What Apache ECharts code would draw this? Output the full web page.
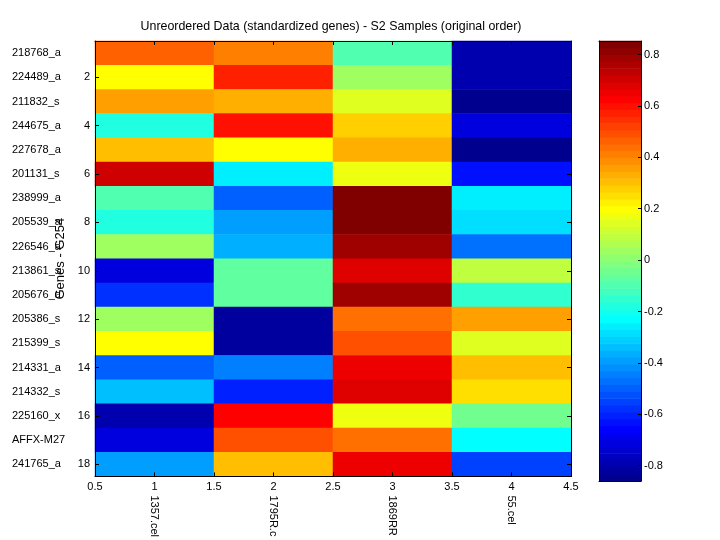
<!DOCTYPE html>
<html><head><meta charset="utf-8">
<script src="https://cdn.jsdelivr.net/npm/echarts@6/dist/echarts.min.js"></script>
<style>html,body{margin:0;padding:0;background:#fff}#c{width:720px;height:540px}</style>
</head><body><div id="c"></div>
<script>
const samples = ['1357.cel', '1795R.c', '1869RR', '55.cel'];
const genes = ['218768_a', '224489_a', '211832_s', '244675_a', '227678_a', '201131_s', '238999_a', '205539_a', '226546_a', '213861_s', '205676_a', '205386_s', '215399_s', '214331_a', '214332_s', '225160_x', 'AFFX-M27', '241765_a'];
const col1 = [0.463, 0.195, 0.356, -0.179, 0.31, 0.704, -0.099, -0.179, 0.035, -0.715, -0.581, 0.035, 0.195, -0.501, -0.340, -0.795, -0.715, -0.394];
const col2 = [0.410, 0.570, 0.329, 0.597, 0.195, -0.260, -0.501, -0.394, -0.367, -0.072, -0.072, -0.822, -0.822, -0.447, -0.608, 0.624, 0.490, 0.302];
const col3 = [-0.099, 0.035, 0.142, 0.289, 0.329, 0.169, 0.85, 0.838, 0.784, 0.677, 0.784, 0.436, 0.490, 0.650, 0.677, 0.169, 0.436, 0.650];
const col4 = [-0.795, -0.795, -0.85, -0.715, -0.86, -0.634, -0.260, -0.286, -0.474, 0.088, -0.153, 0.356, 0.142, 0.302, 0.249, -0.045, -0.233, -0.554];
const xTicks = [0.5, 1, 1.5, 2, 2.5, 3, 3.5, 4, 4.5];
const yTicks = [2, 4, 6, 8, 10, 12, 14, 16, 18];
const cbTicks = [-0.8, -0.6, -0.4, -0.2, 0, 0.2, 0.4, 0.6, 0.8];
const cMin = -0.86, cMax = 0.853;
const title = 'Unreordered Data (standardized genes) - S2 Samples (original order)';
const yName = 'Genes - G254';

// MATLAB jet(64) colormap
function jet64(i) {
  const u = [];
  for (let k = 1; k <= 16; k++) u.push(k / 16);
  for (let k = 0; k < 15; k++) u.push(1);
  for (let k = 16; k >= 1; k--) u.push(k / 16);
  const pick = j => (j >= 1 && j <= 47) ? u[j - 1] : 0;
  const r = pick(i - 24), g = pick(i - 8), b = pick(i + 8);
  const h = x => Math.round(x * 255);
  return 'rgb(' + h(r) + ',' + h(g) + ',' + h(b) + ')';
}
const NL = 64;
const step = (cMax - cMin) / NL;
const colors = [];
for (let i = 1; i <= NL; i++) colors.push(jet64(i));
const pieces = colors.map((c, k) => {
  const p = { gte: cMin + k * step, color: c };
  if (k < NL - 1) p.lt = cMin + (k + 1) * step; else p.lte = cMax + 1e-9;
  return p;
});
const cbData = colors.map((c, k) => [k, cMin + k * step, cMin + (k + 1) * step]);

const cols = [col1, col2, col3, col4];
const heat = [];
cols.forEach((col, ci) => col.forEach((v, ri) => heat.push([ci, ri, v])));

const F = 'Liberation Sans';
const line = { show: true, onZero: false, lineStyle: { color: '#000', width: 1 } };
const lab = { color: '#000', fontSize: 11, fontFamily: F };

const chart = echarts.init(document.getElementById('c'), null, { renderer: 'canvas' });
chart.setOption({
  animation: false,
  backgroundColor: '#fff',
  textStyle: { fontFamily: F },
  title: { text: title, left: 331, top: 21, padding: 0, textAlign: 'center',
    textStyle: { fontSize: 12.4, fontWeight: 'normal', color: '#000', fontFamily: F } },
  grid: [
    { left: 95, top: 41, width: 476, height: 440 },
    { left: 599, top: 41, width: 42, height: 440 }
  ],
  xAxis: [
    { type: 'category', gridIndex: 0, data: samples, position: 'bottom',
      axisLine: { show: false }, axisTick: { show: false }, splitLine: { show: false },
      axisLabel: Object.assign({ rotate: -90, margin: 19, interval: 0 }, lab) },
    { type: 'value', gridIndex: 0, position: 'bottom', min: 0.5, max: 4.5, interval: 0.5, z: 10,
      axisLine: line, axisTick: { show: true, inside: true, length: 4, lineStyle: { color: '#000' } },
      splitLine: { show: false }, axisLabel: Object.assign({ margin: 5, showMinLabel: true, showMaxLabel: true }, lab) },
    { type: 'value', gridIndex: 0, position: 'top', min: 0.5, max: 4.5, interval: 0.5, z: 10,
      axisLine: line, axisTick: { show: true, inside: true, length: 4, lineStyle: { color: '#000' } },
      splitLine: { show: false }, axisLabel: { show: false } },
    { type: 'value', gridIndex: 1, position: 'bottom', min: 0, max: 1, z: 10,
      axisLine: line, axisTick: { show: false }, splitLine: { show: false }, axisLabel: { show: false } },
    { type: 'value', gridIndex: 1, position: 'top', min: 0, max: 1, z: 10,
      axisLine: line, axisTick: { show: false }, splitLine: { show: false }, axisLabel: { show: false } }
  ],
  yAxis: [
    { type: 'category', gridIndex: 0, data: genes, inverse: true, position: 'left',
      axisLine: { show: false }, axisTick: { show: false }, splitLine: { show: false },
      axisLabel: Object.assign({ align: 'left', margin: 83, interval: 0 }, lab) },
    { type: 'value', gridIndex: 0, position: 'left', min: 0.5, max: 18.5, inverse: true, z: 10,
      name: yName, nameLocation: 'middle', nameRotate: 90, nameGap: 24,
      nameTextStyle: { color: '#000', fontSize: 13, fontFamily: F },
      axisLine: line, axisTick: { show: true, inside: true, length: 4, customValues: yTicks, lineStyle: { color: '#000' } },
      splitLine: { show: false }, axisLabel: Object.assign({ margin: 5, customValues: yTicks, formatter: v => String(v) }, lab) },
    { type: 'value', gridIndex: 0, position: 'right', min: 0.5, max: 18.5, inverse: true, z: 10,
      axisLine: line, axisTick: { show: true, inside: true, length: 4, customValues: yTicks, lineStyle: { color: '#000' } },
      splitLine: { show: false }, axisLabel: { show: false } },
    { type: 'value', gridIndex: 1, position: 'right', min: cMin, max: cMax, z: 10,
      axisLine: line, axisTick: { show: true, inside: true, length: 3, customValues: cbTicks, lineStyle: { color: '#000' } },
      splitLine: { show: false }, axisLabel: Object.assign({ margin: 3, customValues: cbTicks, formatter: v => String(Math.round(v * 10) / 10) }, lab) },
    { type: 'value', gridIndex: 1, position: 'left', min: cMin, max: cMax, z: 10,
      axisLine: line, axisTick: { show: false }, splitLine: { show: false }, axisLabel: { show: false } }
  ],
  visualMap: {
    type: 'piecewise', show: false, seriesIndex: 0, dimension: 2, pieces: pieces
  },
  series: [
    { type: 'heatmap', xAxisIndex: 0, yAxisIndex: 0, data: heat, emphasis: { disabled: true }, itemStyle: { borderWidth: 0 } },
    { type: 'custom', xAxisIndex: 3, yAxisIndex: 3, data: cbData, silent: true,
      renderItem: function (params, api) {
        const k = api.value(0);
        const p1 = api.coord([0, api.value(2)]);
        const p2 = api.coord([1, api.value(1)]);
        return { type: 'rect', shape: { x: p1[0], y: p1[1] - 0.3, width: p2[0] - p1[0], height: p2[1] - p1[1] + 0.6 },
          style: { fill: colors[k] } };
      } }
  ]
});
</script>
</body></html>
